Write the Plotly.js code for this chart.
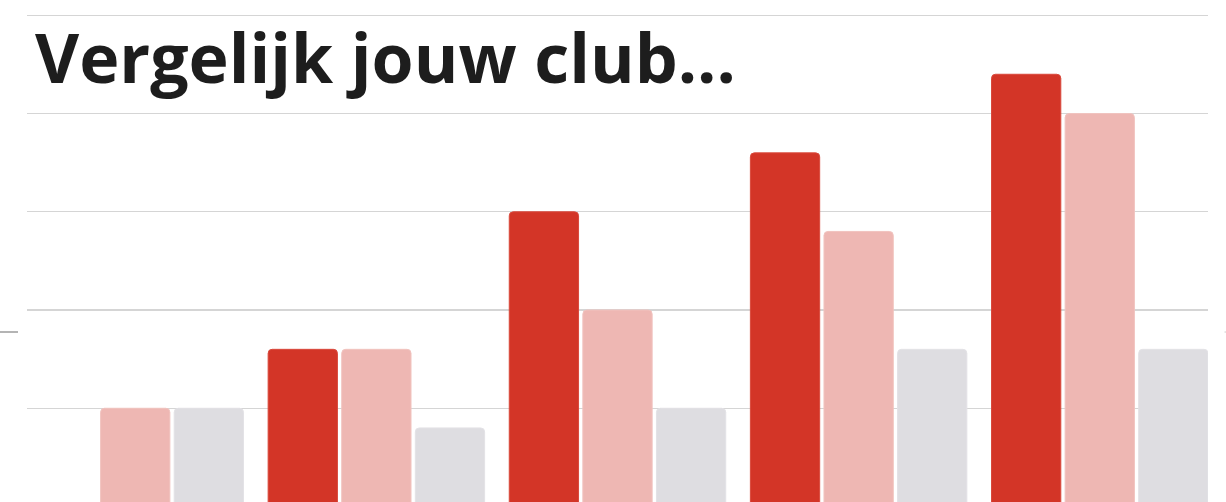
<!DOCTYPE html>
<html>
<head>
<meta charset="utf-8">
<script src="https://cdn.plot.ly/plotly-3.0.1.min.js"></script>
<style>html,body{margin:0;padding:0;background:#fff;}#chart{width:1226px;height:502px;}</style>
</head>
<body>
<div id="chart"></div>
<script>
const categories = ["A", "B", "C", "D", "E"];
const seriesNames = ["Jouw club", "Vergelijkbare clubs", "Gemiddelde"];
const clubValues = [0, 8, 15, 18, 22];
const similarValues = [5, 8, 10, 14, 20];
const averageValues = [5, 4, 5, 8, 8];
const gridTicks = [5, 10, 15, 20, 25];

const colors = ["#d33527", "#eeb7b3", "#dedde1"];
const lineColors = ["#d9483b", "#f1c3bf", "#e3e2e6"];
const allValues = [clubValues, similarValues, averageValues];

const traces = allValues.map((vals, i) => ({
  type: "bar",
  name: seriesNames[i],
  x: categories,
  y: vals,
  marker: { color: colors[i], cornerradius: 4, line: { color: lineColors[i], width: 1 } },
  hoverinfo: "none"
}));

const layout = {
  width: 1226,
  height: 502,
  margin: { l: 27, r: 18, t: 0, b: 0, pad: 0 },
  paper_bgcolor: "#ffffff",
  plot_bgcolor: "#ffffff",
  showlegend: false,
  barmode: "group",
  bargap: 0.0844,
  bargroupgap: 0.0584,
  title: {
    text: "<b>Vergelijk jouw club...</b>",
    font: { family: "Open Sans", size: 68, color: "#1d1d1d" },
    xref: "container", yref: "container",
    x: 0.0285, xanchor: "left",
    y: 0.882, yanchor: "middle"
  },
  xaxis: {
    type: "category",
    range: [-0.4489, 4.4489],
    showticklabels: false,
    showgrid: false,
    zeroline: false,
    showline: false,
    ticks: ""
  },
  yaxis: {
    range: [0.23, 25.78],
    tickvals: gridTicks,
    showticklabels: false,
    showgrid: true,
    gridcolor: "#d5d5d5",
    gridwidth: 1.3,
    zeroline: false,
    showline: false,
    ticks: ""
  },
  shapes: [
    { type: "line", xref: "paper", yref: "paper", x0: -0.0229, x1: -0.0076, y0: 0.3386, y1: 0.3386,
      line: { color: "#b4b4b4", width: 2 } },
    { type: "line", xref: "paper", yref: "paper", x0: 1.0140, x1: 1.0152, y0: 0.3386, y1: 0.3386,
      line: { color: "#c8c8c8", width: 1 } }
  ]
};

Plotly.newPlot("chart", traces, layout, { staticPlot: true, displayModeBar: false });
</script>
</body>
</html>
